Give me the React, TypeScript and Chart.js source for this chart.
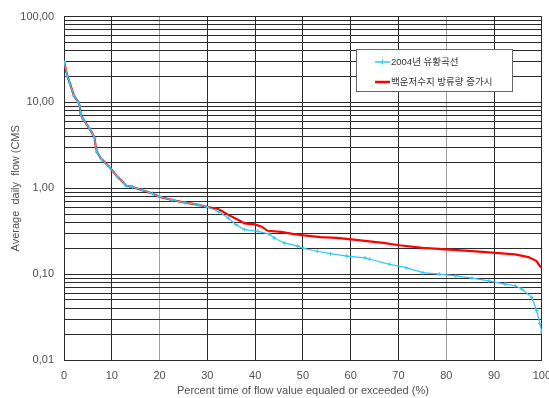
import React, { useEffect, useRef } from "react";
import { Chart, registerables } from "chart.js";

Chart.register(...registerables);

const sharedPct = [0, 0.7, 1.2, 2.1, 3.0, 3.3, 3.5, 4.0, 5.4, 6.4, 6.6, 6.9, 7.8, 9.5, 11.2, 12.6, 13.0, 14.3, 16.4, 18.5, 19.9, 22.6, 25.4, 28.2, 29.8];
const sharedFlow = [30, 20.2, 16.9, 11.9, 10.1, 9.1, 7.3, 6.4, 4.9, 3.9, 3.15, 2.64, 2.2, 1.77, 1.36, 1.14, 1.07, 1.04, 0.95, 0.87, 0.8, 0.73, 0.68, 0.64, 0.61];

const pct2004 = [...sharedPct, 32.3, 34.4, 36.0, 37.8, 40.6, 43.0, 44.0, 46.1, 48.9, 50.2, 53.0, 55.8, 59.2, 63.0, 64.0, 68.2, 71.6, 75.1, 78.5, 82.0, 85.4, 88.9, 92.3, 94.4, 95.8, 97.9, 98.9, 99.6, 100];
const flow2004 = [...sharedFlow, 0.536, 0.45, 0.377, 0.33, 0.315, 0.293, 0.264, 0.231, 0.212, 0.199, 0.185, 0.173, 0.162, 0.155, 0.149, 0.13, 0.119, 0.104, 0.1, 0.0955, 0.0898, 0.0836, 0.0766, 0.0732, 0.067, 0.0537, 0.0377, 0.0265, 0.0212];

const pctIncrease = [...sharedPct, 32.3, 34.4, 36.4, 37.8, 39.9, 41.3, 42.6, 45.4, 48.2, 50.2, 53.7, 57.1, 60.6, 63.4, 66.8, 70.2, 75.1, 79.9, 85.4, 90.3, 94.4, 97.2, 98.9, 99.6, 100];
const flowIncrease = [...sharedFlow, 0.575, 0.49, 0.43, 0.39, 0.38, 0.36, 0.32, 0.31, 0.293, 0.283, 0.27, 0.264, 0.253, 0.242, 0.231, 0.217, 0.202, 0.194, 0.185, 0.177, 0.17, 0.158, 0.142, 0.124, 0.119];

const seriesNames = ["2004년 유황곡선", "백운저수지 방류량 증가시"];
const xTicks = [0, 10, 20, 30, 40, 50, 60, 70, 80, 90, 100];
const yDecades = [0.01, 0.1, 1, 10];
const yMax = 100;

const FONT = '"Liberation Sans", Arial, "Noto Sans CJK KR", sans-serif';
const CYAN = "#33c8f5";
const RED = "#ff0000";
const TEXT = "#505050";

export default function App() {
  const ref = useRef<HTMLCanvasElement | null>(null);

  useEffect(() => {
    if (!ref.current) return;
    const yTickValues: number[] = [];
    yDecades.forEach((d) => {
      for (let m = 1; m <= 9; m++) yTickValues.push(+(m * d).toPrecision(3));
    });
    yTickValues.push(yMax);

    const legendPlugin = {
      id: "customLegend",
      afterDraw(chart: any) {
        const ctx = chart.ctx;
        ctx.save();
        const bx = 356.5, by = 49.5, bw = 156, bh = 42;
        ctx.fillStyle = "#ffffff";
        ctx.fillRect(bx, by, bw, bh);
        ctx.strokeStyle = "#666";
        ctx.lineWidth = 1;
        ctx.strokeRect(bx, by, bw, bh);
        ctx.strokeStyle = CYAN;
        ctx.lineWidth = 1.5;
        ctx.beginPath();
        ctx.moveTo(375, 62);
        ctx.lineTo(390, 62);
        ctx.stroke();
        ctx.lineWidth = 1;
        ctx.beginPath();
        ctx.moveTo(382.5, 59.5);
        ctx.lineTo(382.5, 64.5);
        ctx.stroke();
        ctx.strokeStyle = RED;
        ctx.lineWidth = 2.5;
        ctx.beginPath();
        ctx.moveTo(375, 82);
        ctx.lineTo(390, 82);
        ctx.stroke();
        ctx.fillStyle = "#333";
        ctx.font = "9.5px " + FONT;
        ctx.textBaseline = "middle";
        ctx.textAlign = "left";
        ctx.fillText(seriesNames[0], 391, 62);
        ctx.fillText(seriesNames[1], 391, 82);
        ctx.restore();
      },
    };

    const chart = new Chart(ref.current, {
      type: "line",
      data: {
        datasets: [
          {
            label: seriesNames[0],
            data: pct2004.map((x, i) => ({ x, y: flow2004[i] })),
            borderColor: CYAN,
            backgroundColor: CYAN,
            borderWidth: 1.2,
            pointStyle: "cross",
            pointRadius: 2,
            pointBorderWidth: 1,
            pointBorderColor: CYAN,
            tension: 0,
          },
          {
            label: seriesNames[1],
            data: pctIncrease.map((x, i) => ({ x, y: flowIncrease[i] })),
            borderColor: RED,
            backgroundColor: RED,
            borderWidth: 2.2,
            pointRadius: 0,
            tension: 0,
          },
        ],
      },
      options: {
        animation: false,
        responsive: false,
        maintainAspectRatio: false,
        events: [],
        layout: { padding: { left: 0, top: 13, right: 13, bottom: 0 } },
        plugins: { legend: { display: false }, tooltip: { enabled: false } },
        scales: {
          x: {
            type: "linear",
            min: 0,
            max: 100,
            afterBuildTicks: (s: any) => {
              s.ticks = xTicks.map((v) => ({ value: v }));
            },
            afterFit: (s: any) => {
              s.height = 38;
            },
            ticks: { color: TEXT, font: { family: FONT, size: 11 }, padding: 9, maxRotation: 0, autoSkip: false },
            grid: { color: (c: any) => (c.tick && (c.tick.value === 20 || c.tick.value === 80) ? "#a0a0a0" : "#2a2a2a"), drawTicks: false, lineWidth: 1 },
            border: { color: "#2a2a2a", width: 1 },
            title: { display: true, text: "Percent time of flow value equaled or exceeded (%)", color: TEXT, font: { family: FONT, size: 11 }, padding: { top: 0, bottom: 0 } },
          },
          y: {
            type: "logarithmic",
            min: 0.01,
            max: yMax,
            afterBuildTicks: (s: any) => {
              s.ticks = yTickValues.map((v) => ({ value: v }));
            },
            afterFit: (s: any) => {
              s.width = 64;
            },
            ticks: {
              color: TEXT,
              font: { family: FONT, size: 11 },
              padding: 10,
              autoSkip: false,
              callback: (v: any) => {
                const n = Number(v);
                const l = Math.log10(n);
                if (Math.abs(l - Math.round(l)) > 1e-6) return "";
                return n.toFixed(2).replace(".", ",");
              },
            },
            grid: { color: "#2a2a2a", drawTicks: false, lineWidth: 1 },
            border: { color: "#2a2a2a", width: 1 },
            title: { display: true, text: "Average  daily  flow (CMS", color: TEXT, font: { family: FONT, size: 11 }, padding: { top: 9, bottom: 0 } },
          },
        },
      },
      plugins: [legendPlugin],
    } as any);
    return () => chart.destroy();
  }, []);

  return (
    <div style={{ position: "fixed", left: 0, top: 0, width: 549, height: 398, overflow: "hidden", background: "#fff" }}>
      <canvas ref={ref} width={560} height={398} style={{ display: "block", width: 560, height: 398 }} />
    </div>
  );
}
